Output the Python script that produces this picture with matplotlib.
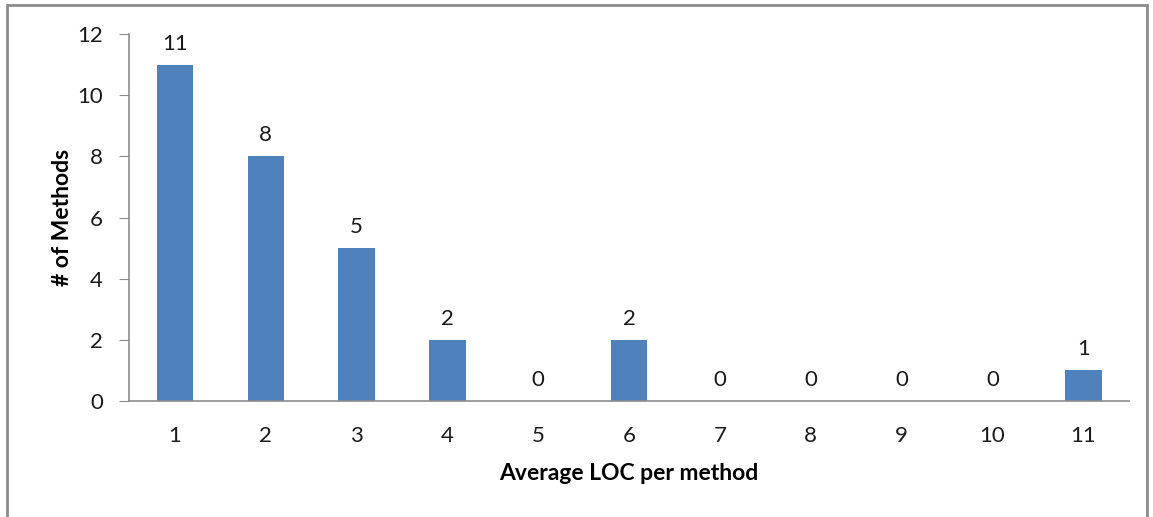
import matplotlib.pyplot as plt
from matplotlib.patches import Rectangle

# data
loc_bins = ["1", "2", "3", "4", "5", "6", "7", "8", "9", "10", "11"]
method_counts = [11, 8, 5, 2, 0, 2, 0, 0, 0, 0, 1]

plt.rcParams["font.family"] = ["Lato", "DejaVu Sans"]

fig = plt.figure(figsize=(11.53, 5.17), dpi=100)
ax = fig.add_axes([0.1123, 0.2244, 0.979 - 0.1123, 0.934 - 0.2244])

x = range(len(loc_bins))
bars = ax.bar(x, method_counts, width=0.4, color="#4F81BD")

for xi, v in zip(x, method_counts):
    ax.annotate(str(v), (xi, v), xytext=(0, 8), textcoords="offset points",
                ha="center", va="bottom", fontsize=16, color="#1a1a1a")

ax.set_xlim(-0.5, len(loc_bins) - 0.5)
ax.set_ylim(0, 12)
ax.set_yticks(range(0, 13, 2))
ax.set_xticks(list(x))
ax.set_xticklabels(loc_bins)

for s in ["top", "right"]:
    ax.spines[s].set_visible(False)
for s in ["left", "bottom"]:
    ax.spines[s].set_color("#8c8c8c")
    ax.spines[s].set_linewidth(1.2)

ax.tick_params(axis="y", length=7, color="#8c8c8c", labelsize=16, pad=12, labelcolor="#1a1a1a")
ax.tick_params(axis="x", length=0, labelsize=16, pad=18, labelcolor="#1a1a1a")

ax.set_xlabel("Average LOC per method", fontsize=16.5, fontweight="bold", labelpad=12)
ax.set_ylabel("# of Methods", fontsize=16.5, fontweight="bold", labelpad=3)

# outer chart border
fig.patches.append(Rectangle((7 / 1153, -0.01), 1140 / 1153, 1.0 - 5 / 517 + 0.01,
                             transform=fig.transFigure, fill=False,
                             edgecolor="#8c8c8c", linewidth=2))

plt.savefig("out.png", dpi=100)
plt.close()
